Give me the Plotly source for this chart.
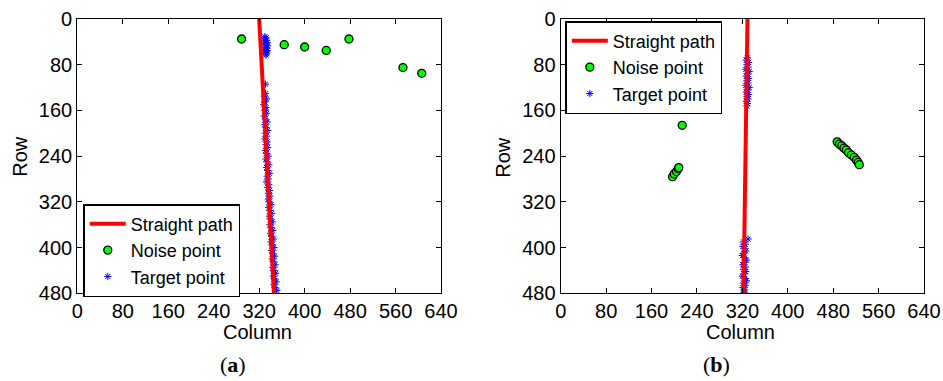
import plotly.graph_objects as go

# ---------------- data ----------------
# Panel (a)
path_a_col = [320, 346]
path_a_row = [0, 480]

noise_a_col = [289, 364, 400, 438, 478, 573, 606]
noise_a_row = [35, 45, 49, 55, 35, 85, 95]

target_a_col = [330, 332, 329, 333, 331, 334, 330, 332, 335, 331, 333, 330, 334, 332, 331, 333, 332,
                331,
                331, 329, 333, 330, 328, 332, 330, 333, 329, 331, 334, 330, 332, 335, 331, 333,
                330, 334, 332, 335, 331, 333, 336, 332, 334, 337, 333, 335, 338, 334, 336, 333,
                337, 335, 338, 336, 339, 336, 338, 341, 337, 339, 342, 338, 340, 343, 339, 341,
                344, 340, 342, 345, 341, 343, 346, 342, 344, 347, 343, 345, 348, 344, 346, 349,
                345, 347, 350, 346, 348, 351, 347]
target_a_row = [31, 33, 35, 37, 39, 41, 43, 45, 47, 49, 51, 53, 55, 57, 59, 61, 63,
                114,
                130, 135, 140, 145, 150, 155, 160, 165, 170, 175, 180, 185, 190, 195, 200, 205,
                210, 215, 220, 225, 230, 235, 240, 245, 250, 255, 260, 265, 270, 275, 280, 285,
                290, 295, 300, 305, 310, 315, 320, 325, 330, 335, 340, 345, 350, 355, 360, 365,
                370, 375, 380, 385, 390, 395, 400, 405, 410, 415, 420, 425, 430, 435, 440, 445,
                450, 455, 460, 465, 470, 475, 480]

# Panel (b)
path_b_col = [329, 322]
path_b_row = [0, 480]

noise_b_col = [214, 197, 200, 204, 207, 208,
               487, 491, 495, 499, 503, 507, 512, 517, 521, 524, 526]
noise_b_row = [186, 276, 271, 267, 262, 260,
               215, 219, 222, 226, 229, 234, 238, 242, 247, 251, 255]

target_b_col = [329, 327, 331, 328, 330, 326, 332, 329, 327, 331, 328, 330, 326, 332, 329, 327,
                331, 328, 330, 327, 329, 328,
                330,
                322, 325, 321, 324, 326, 322, 320, 324, 327, 323, 321, 325, 322, 326, 323, 320,
                324, 327, 322, 325, 321, 324, 323, 322]
target_b_row = [68, 72, 76, 80, 84, 88, 92, 96, 100, 104, 108, 112, 116, 120, 124, 128,
                132, 136, 140, 144, 148, 152,
                385,
                390, 394, 398, 402, 406, 410, 414, 418, 422, 426, 430, 434, 438, 442, 446, 450,
                454, 458, 462, 466, 470, 474, 478, 480]

tick_vals_x = [0, 80, 160, 240, 320, 400, 480, 560, 640]
tick_vals_y = [0, 80, 160, 240, 320, 400, 480]

# ---------------- figure ----------------
FONT = "Liberation Sans, Arial, sans-serif"
fig = go.Figure()


def add_panel(fig, px, pr, nx, nr, tx, tr, xa, ya, legend):
    fig.add_trace(go.Scatter(x=tx, y=tr, mode="markers", name="Target point",
                             marker=dict(symbol="asterisk-open", size=6, color="#0000ff",
                                         line=dict(color="#0000ff", width=1)),
                             xaxis=xa, yaxis=ya, legend=legend, legendrank=3))
    fig.add_trace(go.Scatter(x=px, y=pr, mode="lines", name="Straight path",
                             line=dict(color="#ff0000", width=4),
                             xaxis=xa, yaxis=ya, legend=legend, legendrank=1))
    fig.add_trace(go.Scatter(x=nx, y=nr, mode="markers", name="Noise point",
                             marker=dict(symbol="circle", size=8, color="#00ff00",
                                         line=dict(color="black", width=1.3)),
                             xaxis=xa, yaxis=ya, legend=legend, legendrank=2))


add_panel(fig, path_a_col, path_a_row, noise_a_col, noise_a_row,
          target_a_col, target_a_row, "x", "y", "legend")
add_panel(fig, path_b_col, path_b_row, noise_b_col, noise_b_row,
          target_b_col, target_b_row, "x2", "y2", "legend2")

axis_common = dict(showgrid=False, zeroline=False, showline=True, linecolor="black",
                   linewidth=1.2, mirror="ticks", ticks="inside", ticklen=5,
                   tickcolor="black", tickwidth=1, automargin=False,
                   tickfont=dict(family=FONT, size=20, color="black"))

legend_common = dict(xanchor="left", yanchor="top", bgcolor="white",
                     bordercolor="black", borderwidth=1.5, itemwidth=36,
                     font=dict(family=FONT, size=18, color="black"), tracegroupgap=0)

fig.update_layout(
    template="none",
    width=943, height=381,
    margin=dict(l=0, r=0, t=0, b=0, pad=0, autoexpand=False),
    paper_bgcolor="white", plot_bgcolor="white",
    xaxis=dict(domain=[0.0820, 0.4677], range=[0, 640], tickvals=tick_vals_x,
               anchor="y", **axis_common),
    yaxis=dict(domain=[0.2302, 0.9501], range=[480, 0], tickvals=tick_vals_y,
               anchor="x", **axis_common),
    xaxis2=dict(domain=[0.5946, 0.9799], range=[0, 640], tickvals=tick_vals_x,
                anchor="y2", **axis_common),
    yaxis2=dict(domain=[0.2302, 0.9501], range=[480, 0], tickvals=tick_vals_y,
                anchor="x2", **axis_common),
    legend=dict(x=0.0883, y=1 - 204 / 381, **legend_common),
    legend2=dict(x=0.5995, y=1 - 21 / 381, **legend_common),
    showlegend=True,
)

ann = []
for cx, rx in [(257 / 943, 20 / 943), (740.7 / 943, 503 / 943)]:
    ann.append(dict(text="Column", x=cx, y=1 - 332 / 381, xref="paper", yref="paper",
                    showarrow=False, xanchor="center", yanchor="middle",
                    font=dict(family=FONT, size=20, color="black")))
    ann.append(dict(text="Row", x=rx, y=1 - 156.7 / 381, xref="paper", yref="paper",
                    showarrow=False, xanchor="center", yanchor="middle", textangle=-90,
                    font=dict(family=FONT, size=20, color="black")))
ann.append(dict(text="(<b>a</b>)", x=232.7 / 943, y=1 - 364 / 381, xref="paper", yref="paper",
                showarrow=False, xanchor="center", yanchor="middle",
                font=dict(family="Liberation Serif, serif", size=22, color="black")))
ann.append(dict(text="(<b>b</b>)", x=716.7 / 943, y=1 - 364 / 381, xref="paper", yref="paper",
                showarrow=False, xanchor="center", yanchor="middle",
                font=dict(family="Liberation Serif, serif", size=22, color="black")))
fig.update_layout(annotations=ann)

fig.write_html("out.html")
